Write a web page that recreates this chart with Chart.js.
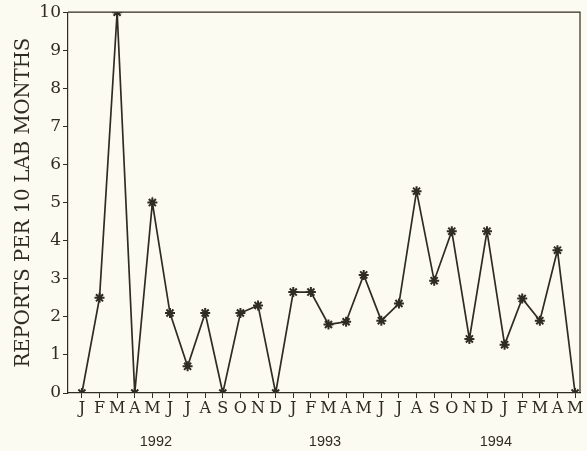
<!DOCTYPE html>
<html>
<head>
<meta charset="utf-8">
<script src="https://cdn.jsdelivr.net/npm/chart.js@4/dist/chart.umd.min.js"></script>
<style>
  html, body { margin: 0; padding: 0; background: #fcfbf1; }
  #wrap { width: 587px; height: 451px; }
</style>
</head>
<body>
<div id="wrap"><canvas id="reports-chart" width="587" height="451"></canvas></div>
<script>
'use strict';

const monthLabels = [
  'J', 'F', 'M', 'A', 'M', 'J', 'J', 'A', 'S', 'O', 'N', 'D',
  'J', 'F', 'M', 'A', 'M', 'J', 'J', 'A', 'S', 'O', 'N', 'D',
  'J', 'F', 'M', 'A', 'M',
];
const reportsPer10LabMonths = [
  0, 2.5, 10, 0, 5.0, 2.1, 0.7, 2.1, 0, 2.1, 2.3, 0,
  2.65, 2.65, 1.8, 1.87, 3.1, 1.9, 2.35, 5.3, 2.95, 4.25, 1.42, 4.25,
  1.27, 2.48, 1.9, 3.75, 0,
];
const yearLabels = ['1992', '1993', '1994'];
const yearCenters = [4.2, 13.8, 23.5];
const yTicks = [0, 1, 2, 3, 4, 5, 6, 7, 8, 9, 10];

const InkColor = '#2f2c22';
const SerifFont = '"DejaVu Serif", "Liberation Serif", serif';

const frameAndYears = {
  id: 'frameAndYears',
  afterDraw(chart) {
    const ctx = chart.ctx;
    const area = chart.chartArea;
    const xScale = chart.scales.x;
    ctx.save();
    ctx.strokeStyle = InkColor;
    ctx.lineWidth = 1.2;
    ctx.beginPath();
    ctx.moveTo(area.left, area.top);
    ctx.lineTo(area.right, area.top);
    ctx.lineTo(area.right, area.bottom);
    ctx.stroke();
    ctx.fillStyle = InkColor;
    ctx.font = '14.5px "Liberation Sans", Arial, sans-serif';
    ctx.textAlign = 'center';
    ctx.textBaseline = 'middle';
    yearLabels.forEach((year, i) => {
      ctx.fillText(year, xScale.getPixelForValue(yearCenters[i]), 442);
    });
    ctx.restore();
  },
};

function displayReportsChart() {
  let points = reportsPer10LabMonths.map((v, i) => ({ x: i, y: v }));
  let data = {
    datasets: [{
      data: points,
      borderColor: InkColor,
      backgroundColor: InkColor,
      borderWidth: 1.7,
      pointStyle: 'star',
      pointRadius: 5,
      pointBorderWidth: 2,
      tension: 0,
    }],
  };
  let options = {
    responsive: false,
    animation: false,
    layout: {
      padding: { top: 12, right: 2, left: 0, bottom: 0 },
    },
    plugins: {
      legend: { display: false },
      tooltip: { enabled: false },
    },
    scales: {
      x: {
        type: 'linear',
        min: -0.79,
        max: 28.28,
        afterBuildTicks(scale) {
          scale.ticks = monthLabels.map((m, i) => ({ value: i }));
        },
        afterFit(scale) {
          scale.height = 58;
        },
        ticks: {
          color: InkColor,
          maxRotation: 0,
          autoSkip: false,
          padding: 1,
          font: { family: SerifFont, size: 16 },
          callback: (value) => monthLabels[value],
        },
        grid: {
          drawOnChartArea: false,
          color: InkColor,
          tickLength: 5,
          lineWidth: 1,
        },
        border: { color: InkColor, width: 1.2 },
      },
      y: {
        min: 0,
        max: 10,
        afterBuildTicks(scale) {
          scale.ticks = yTicks.map((v) => ({ value: v }));
        },
        afterFit(scale) {
          scale.width = 68;
        },
        ticks: {
          color: InkColor,
          padding: 2,
          font: { family: SerifFont, size: 17 },
        },
        grid: {
          drawOnChartArea: false,
          color: InkColor,
          tickLength: 5,
          lineWidth: 1,
        },
        border: { color: InkColor, width: 1.2 },
        title: {
          display: true,
          text: 'REPORTS PER 10 LAB MONTHS',
          color: InkColor,
          padding: { top: 12, bottom: 0 },
          font: { family: SerifFont, size: 19.6 },
        },
      },
    },
  };
  new Chart(document.getElementById('reports-chart'), {
    type: 'line',
    data: data,
    options: options,
    plugins: [frameAndYears],
  });
} //displayReportsChart

displayReportsChart();
</script>
</body>
</html>
